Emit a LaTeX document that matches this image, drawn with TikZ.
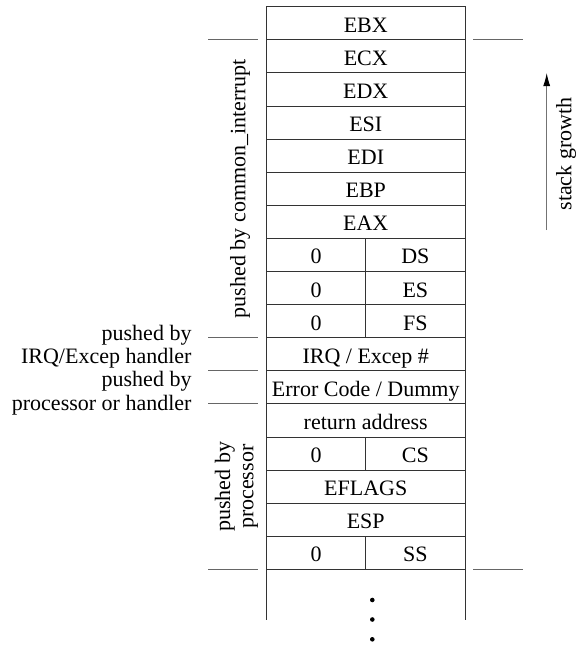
\documentclass[tikz,border=0pt]{standalone}
\usepackage{fontspec}
\setmainfont{Liberation Serif}
\usetikzlibrary{arrows.meta}
\begin{document}
\begin{tikzpicture}[x=1pt,y=-1pt,
  cell/.style={draw=black!80, line width=0.9pt, minimum height=33.1pt, inner sep=0pt, outer sep=0pt,
    text height=20pt, text depth=2pt, font=\fontsize{22}{23.3}\selectfont, anchor=north west},
  full/.style={cell, minimum width=198.5pt},
  half/.style={cell, minimum width=99.25pt},
  tick/.style={draw=black!60, line width=0.9pt},
  lbl/.style={font=\fontsize{22}{23.3}\selectfont, inner sep=0pt},
  dot/.style={circle, fill=black, inner sep=0pt, minimum size=4.6pt}
]
\useasboundingbox (0,0) rectangle (581,645);
\def\rt#1{6.7+33.1*#1}
\node[full] (r0)  at (266.5,{\rt{0}}) {EBX};
\node[full] (r1)  at (266.5,{\rt{1}}) {ECX};
\node[full] (r2)  at (266.5,{\rt{2}}) {EDX};
\node[full] (r3)  at (266.5,{\rt{3}}) {ESI};
\node[full] (r4)  at (266.5,{\rt{4}}) {EDI};
\node[full] (r5)  at (266.5,{\rt{5}}) {EBP};
\node[full] (r6)  at (266.5,{\rt{6}}) {EAX};
\node[half] (r7a) at (266.5,{\rt{7}}) {0};
\node[half] (r7b) at (365.75,{\rt{7}}) {DS};
\node[half] (r8a) at (266.5,{\rt{8}}) {0};
\node[half] (r8b) at (365.75,{\rt{8}}) {ES};
\node[half] (r9a) at (266.5,{\rt{9}}) {0};
\node[half] (r9b) at (365.75,{\rt{9}}) {FS};
\node[full] (r10) at (266.5,{\rt{10}}) {IRQ / Excep \#};
\node[full] (r11) at (266.5,{\rt{11}}) {Error Code / Dummy};
\node[full] (r12) at (266.5,{\rt{12}}) {return address};
\node[half] (r13a) at (266.5,{\rt{13}}) {0};
\node[half] (r13b) at (365.75,{\rt{13}}) {CS};
\node[full] (r14) at (266.5,{\rt{14}}) {EFLAGS};
\node[full] (r15) at (266.5,{\rt{15}}) {ESP};
\node[half] (r16a) at (266.5,{\rt{16}}) {0};
\node[half] (r16b) at (365.75,{\rt{16}}) {SS};
% open bottom of the stack
\coordinate (bl) at (266.5,620);
\coordinate (br) at (465,620);
\draw[draw=black!80, line width=0.9pt] (r16a.south west) -- (bl);
\draw[draw=black!80, line width=0.9pt] (r16b.south east) -- (br);
\node[dot] (d1) at (372.3,600) {};
\node[dot] (d2) at (372.3,619.5) {};
\node[dot] (d3) at (372.3,639.3) {};
% left ticks
\coordinate (t1a) at (208.3,39.8);  \coordinate (t1b) at (257.5,39.8);
\coordinate (t2a) at (208.3,337.7); \coordinate (t2b) at (257.5,337.7);
\coordinate (t3a) at (208.3,370.8); \coordinate (t3b) at (257.5,370.8);
\coordinate (t4a) at (208.3,403.9); \coordinate (t4b) at (257.5,403.9);
\coordinate (t5a) at (208.3,569.4); \coordinate (t5b) at (257.5,569.4);
\draw[tick] (t1a) -- (t1b);
\draw[tick] (t2a) -- (t2b);
\draw[tick] (t3a) -- (t3b);
\draw[tick] (t4a) -- (t4b);
\draw[tick] (t5a) -- (t5b);
% right ticks
\coordinate (u1a) at (473,39.8);  \coordinate (u1b) at (522.7,39.8);
\coordinate (u2a) at (473,569.4); \coordinate (u2b) at (522.7,569.4);
\draw[tick] (u1a) -- (u1b);
\draw[tick] (u2a) -- (u2b);
% labels
\node[lbl, rotate=90] (lc) at (240,188.5) {pushed by common\_interrupt};
\node[lbl, rotate=90, align=center] (lp) at (236.5,486.8) {pushed by\\processor};
\node[lbl, anchor=base east] (li1) at (191.7,340) {pushed by};
\node[lbl, anchor=base east] (li2) at (191.7,363.3) {IRQ/Excep handler};
\node[lbl, anchor=base east] (li3) at (191.7,386.7) {pushed by};
\node[lbl, anchor=base east] (li4) at (191.7,410) {processor or handler};
% stack growth
\coordinate (ga) at (546.7,230);
\coordinate (gb) at (546.7,73);
\draw[draw=black!55, line width=0.9pt, -{Latex[length=13pt,width=7pt,color=black]}] (ga) -- (gb);
\node[lbl, rotate=90] (sg) at (566,154) {stack growth};
\end{tikzpicture}
\end{document}
